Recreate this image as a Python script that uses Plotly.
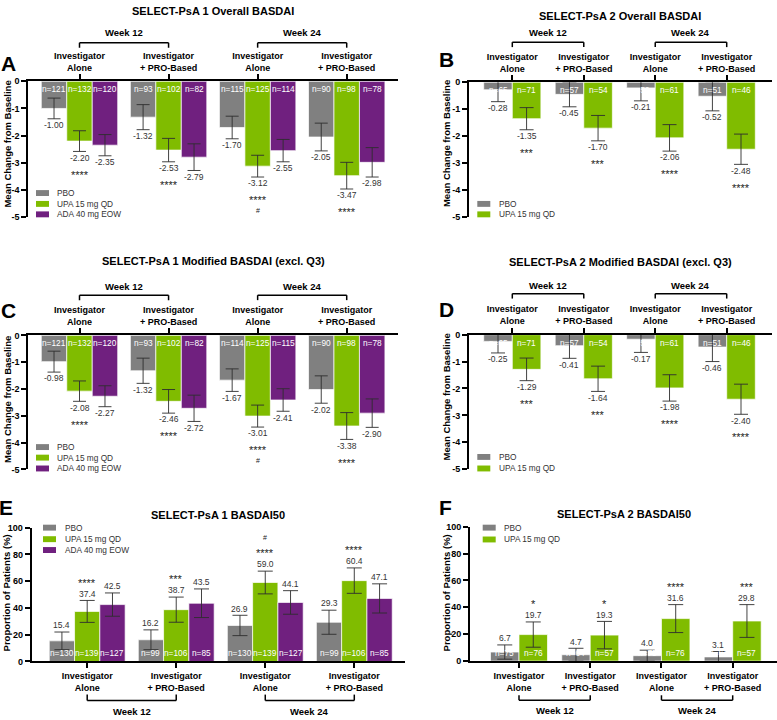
import plotly.graph_objects as go

W, H = 777, 720
FONT = "Liberation Sans, Arial, sans-serif"

# ---------------- data ----------------
GROUP_LABELS = ["Investigator<br>Alone", "Investigator<br>+ PRO-Based",
                "Investigator<br>Alone", "Investigator<br>+ PRO-Based"]
WEEK_LABELS = ["Week 12", "Week 24"]
TREATMENTS = ["PBO", "UPA 15 mg QD", "ADA 40 mg EOW"]
COLORS = ["#808080", "#80bc00", "#70207f"]

# Panel A: SELECT-PsA 1 Overall BASDAI (mean change from baseline, +/- error)
A_PBO = [-1.00, -1.32, -1.70, -2.05]
A_PBO_ERR = [0.38, 0.46, 0.415, 0.51]
A_PBO_N = [121, 93, 115, 90]
A_UPA = [-2.20, -2.53, -3.12, -3.47]
A_UPA_ERR = [0.38, 0.43, 0.40, 0.49]
A_UPA_N = [132, 102, 125, 98]
A_UPA_SIG = ["****", "****", "****", "****"]
A_UPA_HASH = ["", "", "#", ""]
A_ADA = [-2.35, -2.79, -2.55, -2.98]
A_ADA_ERR = [0.39, 0.49, 0.41, 0.54]
A_ADA_N = [120, 82, 114, 78]

# Panel B: SELECT-PsA 2 Overall BASDAI
B_PBO = [-0.28, -0.45, -0.21, -0.52]
B_PBO_ERR = [0.44, 0.46, 0.48, 0.54]
B_PBO_N = [65, 57, 59, 51]
B_UPA = [-1.35, -1.70, -2.06, -2.48]
B_UPA_ERR = [0.41, 0.47, 0.49, 0.56]
B_UPA_N = [71, 54, 61, 46]
B_UPA_SIG = ["***", "***", "****", "****"]

# Panel C: SELECT-PsA 1 Modified BASDAI (excl. Q3)
C_PBO = [-0.98, -1.32, -1.67, -2.02]
C_PBO_ERR = [0.39, 0.47, 0.42, 0.51]
C_PBO_N = [121, 93, 114, 90]
C_UPA = [-2.08, -2.46, -3.01, -3.38]
C_UPA_ERR = [0.38, 0.44, 0.41, 0.50]
C_UPA_N = [132, 102, 125, 98]
C_UPA_SIG = ["****", "****", "****", "****"]
C_UPA_HASH = ["", "", "#", ""]
C_ADA = [-2.27, -2.72, -2.41, -2.90]
C_ADA_ERR = [0.39, 0.49, 0.42, 0.53]
C_ADA_N = [120, 82, 115, 78]

# Panel D: SELECT-PsA 2 Modified BASDAI (excl. Q3)
D_PBO = [-0.25, -0.41, -0.17, -0.46]
D_PBO_ERR = [0.43, 0.47, 0.49, 0.54]
D_PBO_N = [65, 57, 59, 51]
D_UPA = [-1.29, -1.64, -1.98, -2.40]
D_UPA_ERR = [0.42, 0.47, 0.49, 0.56]
D_UPA_N = [71, 54, 61, 46]
D_UPA_SIG = ["***", "***", "****", "****"]

# Panel E: SELECT-PsA 1 BASDAI50 (% of patients)
E_PBO = [15.4, 16.2, 26.9, 29.3]
E_PBO_ERR = [6.6, 7.4, 7.6, 9.0]
E_PBO_N = [130, 99, 130, 99]
E_UPA = [37.4, 38.7, 59.0, 60.4]
E_UPA_ERR = [8.2, 9.4, 8.5, 9.5]
E_UPA_N = [139, 106, 139, 106]
E_UPA_SIG = ["****", "***", "****", "****"]
E_UPA_HASH = ["", "", "#", ""]
E_ADA = [42.5, 43.5, 44.1, 47.1]
E_ADA_ERR = [8.7, 10.7, 8.8, 10.9]
E_ADA_N = [127, 85, 127, 85]

# Panel F: SELECT-PsA 2 BASDAI50
F_PBO = [6.7, 4.7, 4.0, 3.1]
F_PBO_ERR = [5.3, 4.8, 4.1, 4.0]
F_PBO_N = [75, 64, 75, 64]
F_UPA = [19.7, 19.3, 31.6, 29.8]
F_UPA_ERR = [9.4, 10.2, 10.4, 12.2]
F_UPA_N = [76, 57, 76, 57]
F_UPA_SIG = ["*", "*", "****", "***"]

NEG_TICKS = [0, -1, -2, -3, -4, -5]
POS_TICKS = [0, 20, 40, 60, 80, 100]


def px(x):
    return x / W


def py(y):
    return 1 - y / H


panels = [
    dict(k=1, letter="A", title="SELECT-PsA 1 Overall BASDAI", kind="neg",
         xpx=(28.3, 398.0), ypx=(77.3, 215.3), c0=79.5, sp=89.07, bw=0.286, cap=6.5,
         series=[(A_PBO, A_PBO_ERR, A_PBO_N, None, None),
                 (A_UPA, A_UPA_ERR, A_UPA_N, A_UPA_SIG, A_UPA_HASH),
                 (A_ADA, A_ADA_ERR, A_ADA_N, None, None)],
         title_y=6.0, letter_xy=(8.5, 59), ytitle_xy=(7.5, 141),
         week_y=28, br_y=38.3, br_tip=43.3,
         leg_x=36, leg_tx=55, leg_ys=[190.7, 201.7, 212.3]),
    dict(k=2, letter="B", title="SELECT-PsA 2 Overall BASDAI", kind="neg",
         xpx=(469.0, 771.7), ypx=(78.3, 215.3), c0=512.3, sp=71.47, bw=0.4, cap=7,
         series=[(B_PBO, B_PBO_ERR, B_PBO_N, None, None),
                 (B_UPA, B_UPA_ERR, B_UPA_N, B_UPA_SIG, None)],
         title_y=11.0, letter_xy=(446.7, 55.5), ytitle_xy=(446, 141),
         week_y=28.3, br_y=37.7, br_tip=42.7,
         leg_x=477.3, leg_tx=496.7, leg_ys=[201.7, 212.3]),
    dict(k=3, letter="C", title="SELECT-PsA 1 Modified BASDAI (excl. Q3)", kind="neg",
         xpx=(28.3, 398.0), ypx=(335.0, 471.0), c0=79.5, sp=89.07, bw=0.286, cap=6.5,
         series=[(C_PBO, C_PBO_ERR, C_PBO_N, None, None),
                 (C_UPA, C_UPA_ERR, C_UPA_N, C_UPA_SIG, C_UPA_HASH),
                 (C_ADA, C_ADA_ERR, C_ADA_N, None, None)],
         title_y=260, letter_xy=(8.5, 310), ytitle_xy=(7.5, 400),
         week_y=285.7, br_y=294.3, br_tip=299.3,
         leg_x=36, leg_tx=55, leg_ys=[448.3, 459.0, 470.0]),
    dict(k=4, letter="D", title="SELECT-PsA 2 Modified BASDAI (excl. Q3)", kind="neg",
         xpx=(469.0, 771.7), ypx=(334.3, 470.7), c0=512.3, sp=71.47, bw=0.4, cap=7,
         series=[(D_PBO, D_PBO_ERR, D_PBO_N, None, None),
                 (D_UPA, D_UPA_ERR, D_UPA_N, D_UPA_SIG, None)],
         title_y=260.7, letter_xy=(446.7, 309), ytitle_xy=(446, 398),
         week_y=284, br_y=292.7, br_tip=297.7,
         leg_x=477.3, leg_tx=496.7, leg_ys=[458.3, 470.0]),
    dict(k=5, letter="E", title="SELECT-PsA 1 BASDAI50", kind="pos",
         xpx=(31.7, 405.0), ypx=(530.0, 665.7), c0=87.2, sp=89.03, bw=0.284, cap=7.5,
         series=[(E_PBO, E_PBO_ERR, E_PBO_N, None, None),
                 (E_UPA, E_UPA_ERR, E_UPA_N, E_UPA_SIG, E_UPA_HASH),
                 (E_ADA, E_ADA_ERR, E_ADA_N, None, None)],
         title_y=517, letter_xy=(6, 509.5), ytitle_xy=(6, 596.7),
         week_y=716, br_y=705.3, br_tip=699.3,
         leg_x=43, leg_tx=63, leg_ys=[530.0, 541.7, 552.7]),
    dict(k=6, letter="F", title="SELECT-PsA 2 BASDAI50", kind="pos",
         xpx=(470.0, 777.0), ypx=(529.0, 665.3), c0=519.0, sp=71.23, bw=0.4, cap=7.5,
         series=[(F_PBO, F_PBO_ERR, F_PBO_N, None, None),
                 (F_UPA, F_UPA_ERR, F_UPA_N, F_UPA_SIG, None)],
         title_y=516, letter_xy=(445, 510), ytitle_xy=(446, 596.7),
         week_y=715, br_y=705, br_tip=700,
         leg_x=482.7, leg_tx=501.7, leg_ys=[530.0, 542.0]),
]

fig = go.Figure()
layout = dict(width=W, height=H, margin=dict(l=0, r=0, t=0, b=0),
              paper_bgcolor="white", plot_bgcolor="rgba(0,0,0,0)",
              barmode="overlay", showlegend=False,
              font=dict(family=FONT, color="black"))
annotations = []
shapes = []

for p in panels:
    k = p["k"]
    xs = "" if k == 1 else str(k)
    xref, yref = "x" + xs, "y" + xs
    neg = p["kind"] == "neg"
    x0p, x1p = p["xpx"]
    ytop, ybot = p["ypx"]
    xr = [(x0p - p["c0"]) / p["sp"], (x1p - p["c0"]) / p["sp"]]
    yr = [-5, 0] if neg else [0, 100]
    yticks = NEG_TICKS if neg else POS_TICKS

    layout["xaxis" + xs] = dict(
        domain=[px(x0p), px(x1p)], range=xr, anchor=yref,
        side="top" if neg else "bottom",
        tickmode="array", tickvals=[0, 1, 2, 3], ticktext=GROUP_LABELS,
        ticks="outside", ticklen=5, tickwidth=1.5, tickcolor="black",
        showline=True, linecolor="black", linewidth=2,
        showgrid=False, zeroline=False, fixedrange=True,
        tickfont=dict(family=FONT, size=9, color="black", weight="bold"))
    layout["yaxis" + xs] = dict(
        domain=[py(ybot), py(ytop)], range=yr, anchor=xref,
        tickmode="array", tickvals=yticks, ticktext=[str(t) for t in yticks],
        ticks="outside", ticklen=5, tickwidth=1.5, tickcolor="black",
        showline=True, linecolor="black", linewidth=2,
        showgrid=False, zeroline=False, fixedrange=True,
        tickfont=dict(family=FONT, size=9, color="black", weight="bold"))

    n_ser = len(p["series"])
    bw = p["bw"]
    for i, (vals, errs, ns, sig, hsh) in enumerate(p["series"]):
        off = -n_ser * bw / 2 + i * bw
        fig.add_trace(go.Bar(
            x=[0, 1, 2, 3], y=vals, width=bw, offset=off,
            marker=dict(color=COLORS[i], line=dict(color="white", width=0.7)),
            error_y=dict(type="data", array=errs, visible=True, color="#2e2e2e",
                         thickness=0.9, width=p["cap"]),
            name=TREATMENTS[i], xaxis=xref, yaxis=yref, hoverinfo="skip"))
        for g in range(4):
            xc = g + off + bw / 2
            v, e = vals[g], errs[g]
            # n label inside bar near the baseline
            annotations.append(dict(
                x=xc, y=0, xref=xref, yref=yref, text="n=%d" % ns[g], showarrow=False,
                xanchor="center", yanchor="middle", yshift=-8 if neg else 8.5, borderpad=0,
                font=dict(family=FONT, size=8.3, color="white")))
            if neg:
                end = v - e
                lab = "%.2f" % v
                s_lab, s_sig, s_hash = -6.3, -23.2, -33.4
            else:
                end = v + e
                lab = "%.1f" % v
                s_lab, s_sig, s_hash = 6.7, 17.8, 33.2
            annotations.append(dict(
                x=xc, y=end, xref=xref, yref=yref, text=lab, showarrow=False,
                xanchor="center", yanchor="middle", yshift=s_lab, borderpad=0,
                font=dict(family=FONT, size=8.5, color="#333333")))
            if sig and sig[g]:
                annotations.append(dict(
                    x=xc, y=end, xref=xref, yref=yref, text=sig[g], showarrow=False,
                    xanchor="center", yanchor="middle", yshift=s_sig, borderpad=0,
                    font=dict(family=FONT, size=11, color="#222222")))
            if hsh and hsh[g]:
                annotations.append(dict(
                    x=xc, y=end, xref=xref, yref=yref, text=hsh[g], showarrow=False,
                    xanchor="center", yanchor="middle", yshift=s_hash, borderpad=0,
                    font=dict(family=FONT, size=7, color="#222222")))

    # title
    annotations.append(dict(
        x=px((x0p + x1p) / 2), y=py(p["title_y"]), xref="paper", yref="paper",
        text="<b>%s</b>" % p["title"], showarrow=False, xanchor="center", yanchor="middle",
        font=dict(family=FONT, size=11, color="black")))
    # panel letter
    annotations.append(dict(
        x=px(p["letter_xy"][0]), y=py(p["letter_xy"][1]), xref="paper", yref="paper",
        text="<b>%s</b>" % p["letter"], showarrow=False, xanchor="center", yanchor="middle",
        font=dict(family=FONT, size=21, color="black")))
    # y-axis title
    annotations.append(dict(
        x=px(p["ytitle_xy"][0]), y=py(p["ytitle_xy"][1]), xref="paper", yref="paper",
        text="<b>%s</b>" % ("Mean Change from Baseline" if neg else "Proportion of Patients (%)"),
        showarrow=False, textangle=-90, xanchor="center", yanchor="middle",
        font=dict(family=FONT, size=9.5, color="black")))
    # week brackets
    for w, (g0, g1) in enumerate([(0, 1), (2, 3)]):
        for (xa, ya, xb, yb) in [(g0, p["br_tip"], g0, p["br_y"]),
                                 (g0, p["br_y"], g1, p["br_y"]),
                                 (g1, p["br_y"], g1, p["br_tip"])]:
            shapes.append(dict(type="line", xref=xref, yref="paper",
                               x0=xa, x1=xb, y0=py(ya), y1=py(yb),
                               line=dict(color="black", width=1.5)))
        annotations.append(dict(
            x=(g0 + g1) / 2, y=py(p["week_y"]), xref=xref, yref="paper",
            text="<b>%s</b>" % WEEK_LABELS[w], showarrow=False,
            xanchor="center", yanchor="middle",
            font=dict(family=FONT, size=9.5, color="black")))
    # legend
    for i, ly in enumerate(p["leg_ys"]):
        shapes.append(dict(type="rect", xref="paper", yref="paper",
                           x0=px(p["leg_x"]), x1=px(p["leg_x"] + 13),
                           y0=py(ly + 3), y1=py(ly - 3),
                           fillcolor=COLORS[i], line=dict(width=0)))
        annotations.append(dict(
            x=px(p["leg_tx"]), y=py(ly), xref="paper", yref="paper",
            text=TREATMENTS[i], showarrow=False, xanchor="left", yanchor="middle",
            font=dict(family=FONT, size=8.3, color="#333333")))

layout["annotations"] = annotations
layout["shapes"] = shapes
fig.update_layout(**layout)
fig.write_html("out.html", config={"displayModeBar": False},
               post_script="document.body.style.margin='0';document.body.style.overflow='hidden';")
